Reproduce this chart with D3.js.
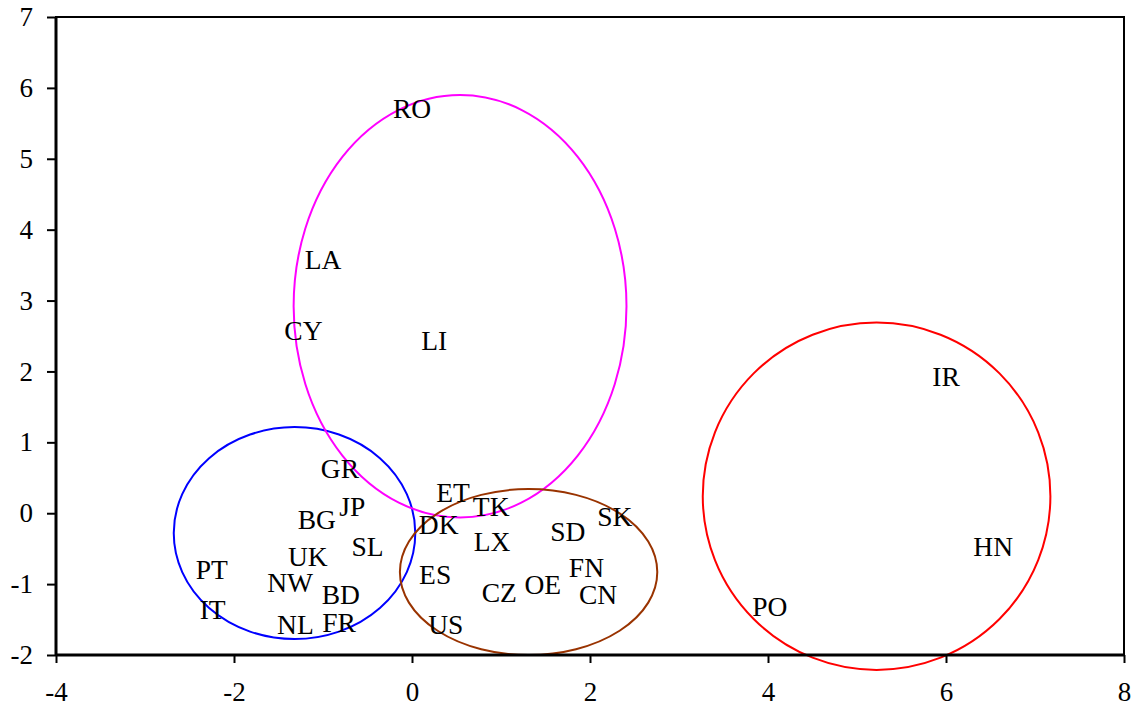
<!DOCTYPE html>
<html>
<head>
<meta charset="utf-8">
<script src="https://cdn.jsdelivr.net/npm/d3@7"></script>
<style>
  html, body { margin: 0; padding: 0; background: #fff; }
  svg { display: block; }
  text { font-family: "Liberation Serif", "Times New Roman", serif; }
</style>
</head>
<body>
<svg id="chart" width="1136" height="710"></svg>
<script>
// ---- data ----
const countries = ["RO","LA","CY","LI","IR","HN","PO","GR","JP","BG","SL","UK","PT","NW","BD","IT","NL","FR",
                   "ET","TK","DK","LX","SD","SK","ES","FN","OE","CZ","CN","US"];
const xValues = [0.00,-1.00,-1.22,0.25,6.00,6.53,4.02,-0.81,-0.67,-1.07,-0.50,-1.17,-2.25,-1.37,-0.80,-2.24,-1.31,-0.82,
                 0.46,0.89,0.30,0.90,1.75,2.28,0.26,1.96,1.47,0.98,2.09,0.38];
const yValues = [5.70,3.57,2.57,2.43,1.92,-0.48,-1.32,0.62,0.09,-0.10,-0.47,-0.61,-0.80,-0.98,-1.15,-1.36,-1.57,-1.55,
                 0.29,0.09,-0.17,-0.41,-0.26,-0.05,-0.87,-0.77,-1.01,-1.13,-1.15,-1.57];

// cluster ellipses (data units)
const clusterNames = ["blue","magenta","brown","red"];
const clusterCx = [-1.32, 0.54, 1.31, 5.22];
const clusterCy = [-0.28, 2.92, -0.83, 0.24];
const clusterRx = [1.357, 1.87, 1.446, 1.953];
const clusterRy = [1.495, 2.98, 1.171, 2.45];
const clusterColors = ["#0000FF", "#FF00FF", "#993300", "#FF0000"];

const xTicks = [-4,-2,0,2,4,6,8];
const yTicks = [-2,-1,0,1,2,3,4,5,6,7];

// ---- layout ----
const mLeft = 56, mRight = 1124, mTop = 17, mBottom = 655;
const svg = d3.select("#chart");
const x = d3.scaleLinear().domain([-4, 8]).range([mLeft, mRight]);
const y = d3.scaleLinear().domain([-2, 7]).range([mBottom, mTop]);

// ellipses
svg.append("g").selectAll("ellipse")
  .data(clusterNames.map((n,i)=>({n, cx:clusterCx[i], cy:clusterCy[i], rx:clusterRx[i], ry:clusterRy[i], c:clusterColors[i]})))
  .join("ellipse")
  .attr("cx", d => x(d.cx))
  .attr("cy", d => y(d.cy))
  .attr("rx", d => x(d.cx + d.rx) - x(d.cx))
  .attr("ry", d => y(d.cy) - y(d.cy + d.ry))
  .attr("fill", "none")
  .attr("stroke", d => d.c)
  .attr("stroke-width", 2);

// axes
const xAxis = d3.axisBottom(x).tickValues(xTicks).tickSize(8).tickSizeOuter(0).tickPadding(19);
const yAxis = d3.axisLeft(y).tickValues(yTicks).tickSize(9).tickSizeOuter(0).tickPadding(14);

const gx = svg.append("g").attr("transform", `translate(0,${mBottom})`).call(xAxis);
const gy = svg.append("g").attr("transform", `translate(${mLeft},0)`).call(yAxis);
[gx, gy].forEach(g => {
  g.select(".domain").remove();
  g.selectAll(".tick line").attr("stroke", "#000").attr("stroke-width", 2);
  g.selectAll(".tick text").attr("fill", "#000").style("font-size", "27px")
    .style("font-family", "'Liberation Serif', 'Times New Roman', serif")
    .text(d => d < 0 ? "-" + Math.abs(d) : String(d));
});

// plot frame
svg.append("rect")
  .attr("x", mLeft).attr("y", mTop)
  .attr("width", mRight - mLeft).attr("height", mBottom - mTop)
  .attr("fill", "none").attr("stroke", "#000").attr("stroke-width", 2);
svg.append("line").attr("x1", mLeft).attr("x2", mLeft).attr("y1", mTop).attr("y2", mBottom)
  .attr("stroke", "#000").attr("stroke-width", 3);
svg.append("line").attr("x1", mLeft).attr("x2", mRight).attr("y1", mBottom).attr("y2", mBottom)
  .attr("stroke", "#000").attr("stroke-width", 3);

// labels
svg.append("g").selectAll("text")
  .data(countries.map((c,i)=>({c, x:xValues[i], y:yValues[i]})))
  .join("text")
  .attr("x", d => x(d.x))
  .attr("y", d => y(d.y))
  .attr("dy", "0.33em")
  .attr("text-anchor", "middle")
  .style("font-size", "27.5px")
  .attr("fill", "#000")
  .text(d => d.c);
</script>
</body>
</html>
